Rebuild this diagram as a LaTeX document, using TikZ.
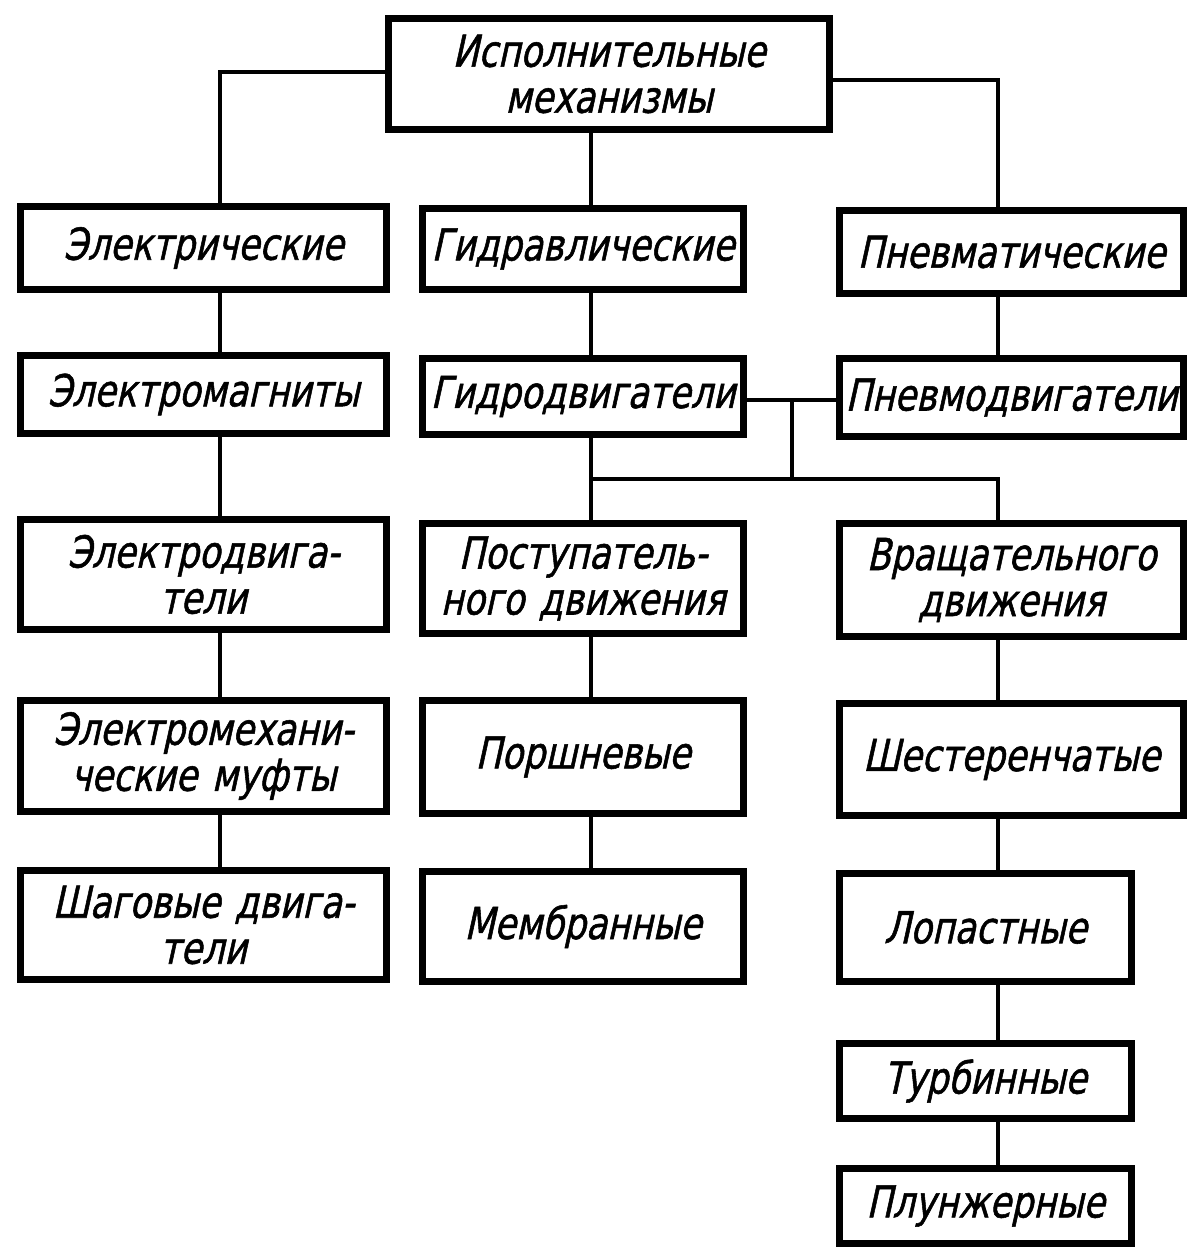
\documentclass[tikz,border=0pt]{standalone}
\usepackage{fontspec}
\newfontfamily\gost[FakeSlant=0.22,FakeStretch=0.88,FakeBold=1.2]{DejaVu Sans Condensed}
\begin{document}
\begin{tikzpicture}[x=0.5pt,y=-0.5pt,
  box/.style 2 args={draw, line width=3.6pt, inner sep=0pt, align=center,
    text width=#1, minimum height=#2,
    font=\gost\fontsize{22}{23}\selectfont},
  conn/.style={line width=1.9pt}]
\useasboundingbox (0,0) rectangle (1189,1251);
\coordinate (xl) at (220,0);
\coordinate (xm) at (591,0);
\coordinate (xr) at (998,0);
\coordinate (xj) at (792,0);
\coordinate (yl) at (0,72);
\coordinate (yr) at (0,80);
\coordinate (yj) at (0,400);
\coordinate (yh) at (0,479);
% top
\node[box={220.4pt}{55.4pt}] (top) at (609,74) {Исполнительные\\механизмы};
% left column
\node[box={182.9pt}{41.4pt}] (L1) at (203.5,248) {Электрические};
\node[box={182.9pt}{38.9pt}] (L2) at (203.5,394.5) {Электромагниты};
\node[box={182.9pt}{54.9pt}] (L3) at (203.5,574.5) {Электродвига-\\тели};
\node[box={182.9pt}{55.4pt}] (L4) at (203.5,756) {Электромехани-\\ческие муфты};
\node[box={182.9pt}{54.4pt}] (L5) at (203.5,925) {Шаговые двига-\\тели};
% middle column
\node[box={160.4pt}{40.4pt}] (M1) at (583,249) {Гидравлические};
\node[box={160.4pt}{37.9pt}] (M2) at (583,396.5) {Гидродвигатели};
\node[box={160.4pt}{54.9pt}] (M3) at (583,578.5) {Поступатель-\\ного движения};
\node[box={160.4pt}{56.4pt}] (M4) at (583,757) {Поршневые};
\node[box={160.4pt}{54.9pt}] (M5) at (583,926.5) {Мембранные};
% right column
\node[box={171.9pt}{41.4pt}] (R1) at (1011.5,252) {Пневматические};
\node[box={171.9pt}{38.9pt}] (R2) at (1011.5,397.5) {Пневмодвигатели};
\node[box={171.9pt}{56.4pt}] (R3) at (1011.5,580) {Вращательного\\движения};
\node[box={171.9pt}{55.9pt}] (R4) at (1011.5,759.5) {Шестеренчатые};
\node[box={145.9pt}{53.9pt}] (R5) at (985.5,927.5) {Лопастные};
\node[box={145.9pt}{37.4pt}] (R6) at (985.5,1081) {Турбинные};
\node[box={145.9pt}{37.4pt}] (R7) at (985.5,1206) {Плунжерные};
% connectors
\draw[conn] (top.west |- yl) -| (xl |- L1.north);
\draw[conn] (top.east |- yr) -| (xr |- R1.north);
\draw[conn] (xm |- top.south) -- (xm |- M1.north);
\draw[conn] (xl |- L1.south) -- (xl |- L2.north);
\draw[conn] (xl |- L2.south) -- (xl |- L3.north);
\draw[conn] (xl |- L3.south) -- (xl |- L4.north);
\draw[conn] (xl |- L4.south) -- (xl |- L5.north);
\draw[conn] (xm |- M1.south) -- (xm |- M2.north);
\draw[conn] (xm |- M2.south) -- (xm |- M3.north);
\draw[conn] (xm |- M3.south) -- (xm |- M4.north);
\draw[conn] (xm |- M4.south) -- (xm |- M5.north);
\draw[conn] (xr |- R1.south) -- (xr |- R2.north);
\draw[conn] (xr |- R3.south) -- (xr |- R4.north);
\draw[conn] (xr |- R4.south) -- (xr |- R5.north);
\draw[conn] (xr |- R5.south) -- (xr |- R6.north);
\draw[conn] (xr |- R6.south) -- (xr |- R7.north);
\draw[conn] (M2.east |- yj) -- (R2.west |- yj);
\draw[conn] (xj |- yj) -- (xj |- yh);
\draw[conn] (xm |- yh) -- (xr |- yh) -- (xr |- R3.north);
\end{tikzpicture}
\end{document}
